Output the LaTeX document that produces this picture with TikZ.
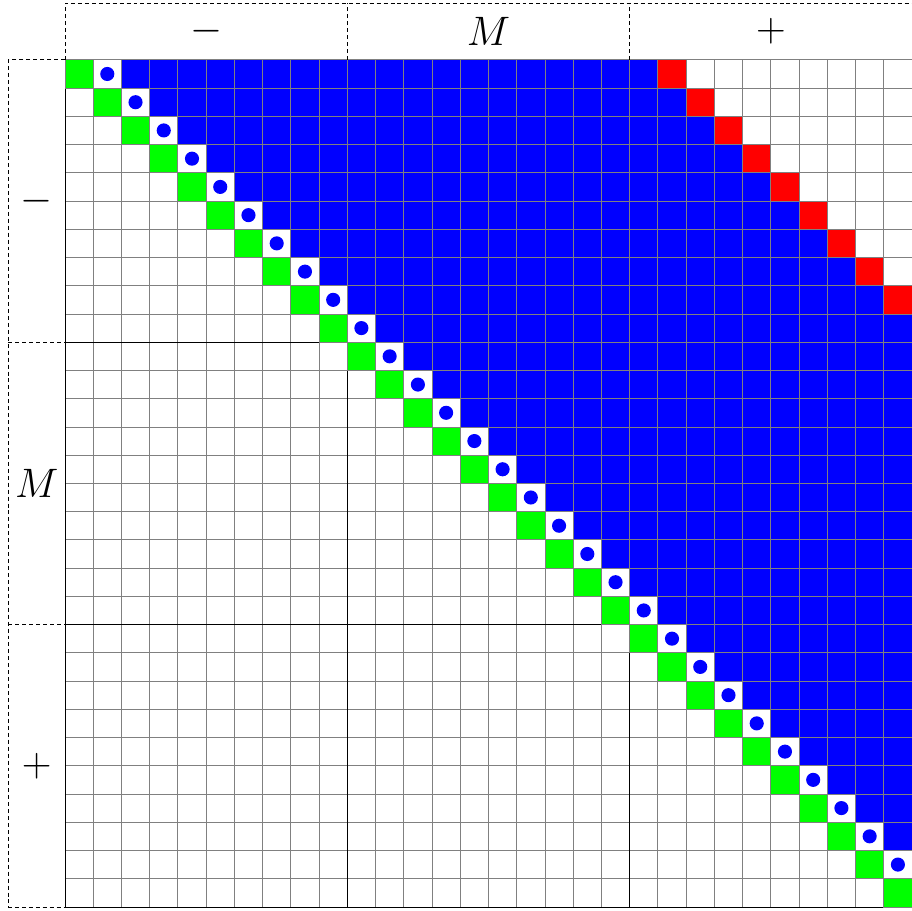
\documentclass[tikz,border=0pt]{standalone}
\usepackage{amsmath,amssymb}
\usepackage{xcolor}
\usepackage{tikz}
\usetikzlibrary{calc}
\definecolor{cellgray}{gray}{0.5}
\tikzset{
  gridln/.style={cellgray,thin},
  blockln/.style={black,thin},
  hdrln/.style={dash pattern=on 2pt off 1.5pt,thin,black},
  diagcell/.style={fill=green,draw=cellgray,thin},
  fullcell/.style={fill=blue,draw=cellgray,thin},
  edgecell/.style={fill=red,draw=cellgray,thin},
  dotB/.style={circle,fill=blue,inner sep=0pt,minimum size=0.25cm},
  blab/.style={font=\huge},
}
\begin{document}
\begin{tikzpicture}[x=0.5cm,y=0.5cm]
  \useasboundingbox (-2.3,2.12) rectangle (30,-30.12);
  % empty grid
  \draw[gridln,step=0.5cm] (0,0) grid (30,-30);
  % block boundaries
  \foreach \k in {10,20} {
    \draw[blockln] (\k,0)--(\k,-30);
    \draw[blockln] (0,-\k)--(30,-\k);
  }
  \draw[blockln] (0,0)--(0,-30)--(30,-30);
  % banded rows: diagonal, dot, full band, last entry
  \foreach \r in {0,...,29} {
    \draw[diagcell] (\r,-\r) rectangle ++(1,-1);
    \pgfmathtruncatemacro{\dcol}{\r+1}
    \ifnum\dcol<30
      \node[dotB] (d\r) at (\dcol+0.5,-\r-0.5) {};
    \fi
    \pgfmathtruncatemacro{\bfirst}{\r+2}
    \pgfmathtruncatemacro{\blast}{min(\r+20,29)}
    \ifnum\bfirst<30
      \foreach \c in {\bfirst,...,\blast}
        \draw[fullcell] (\c,-\r) rectangle ++(1,-1);
    \fi
    \pgfmathtruncatemacro{\rcol}{\r+21}
    \ifnum\rcol<30
      \draw[edgecell] (\rcol,-\r) rectangle ++(1,-1);
    \fi
  }
  % headers
  \draw[hdrln] (0,0)--(0,2)--(30,2);
  \foreach \k in {10,20} \draw[hdrln] (\k,0)--(\k,2);
  \draw[hdrln] (0,0)--(-2,0)--(-2,-30)--(0,-30);
  \foreach \k in {10,20} \draw[hdrln] (-2,-\k)--(0,-\k);
  \node[blab] (tminus) at (5,1) {$-$};
  \node[blab] (tmid) at (15,1) {$M$};
  \node[blab] (tplus) at (25,1) {$+$};
  \node[blab] (lminus) at (-1,-5) {$-$};
  \node[blab] (lmid) at (-1,-15) {$M$};
  \node[blab] (lplus) at (-1,-25) {$+$};
\end{tikzpicture}
\end{document}
